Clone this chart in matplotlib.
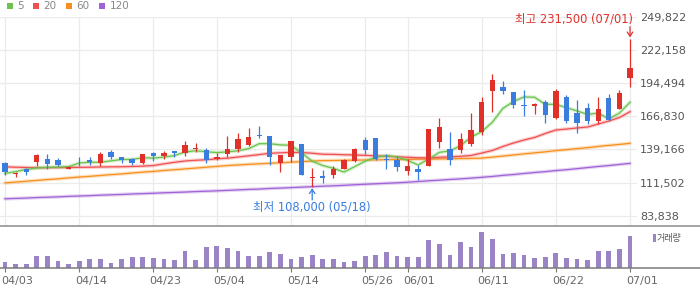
import matplotlib
matplotlib.use('Agg')
import matplotlib.pyplot as plt
from matplotlib.patches import Rectangle
from matplotlib.lines import Line2D
import matplotlib.transforms as mtransforms
import numpy as np

plt.rcParams['font.family'] = ['DejaVu Sans', 'Noto Sans CJK KR']

# ---------------- data ----------------
dates = ['04/03', '04/06', '04/07', '04/08', '04/09', '04/10', '04/13', '04/14',
         '04/15', '04/16', '04/17', '04/20', '04/21', '04/22', '04/23', '04/24',
         '04/27', '04/28', '04/29', '04/30', '05/04', '05/06', '05/07', '05/08',
         '05/11', '05/12', '05/13', '05/14', '05/15', '05/18', '05/19', '05/20',
         '05/21', '05/22', '05/26', '05/27', '05/28', '05/29', '06/01', '06/02',
         '06/03', '06/05', '06/08', '06/09', '06/10', '06/11', '06/12', '06/15',
         '06/16', '06/17', '06/18', '06/19', '06/22', '06/23', '06/24', '06/25',
         '06/26', '06/29', '06/30', '07/01']

open_ = [128000, 118500, 123000, 128500, 131000, 130000, 122500, 128000, 130500, 128000,
         137000, 133000, 131000, 128000, 136500, 134000, 138000, 136500, 139500, 138500,
         131000, 135500, 139500, 143000, 151000, 150000, 127500, 132500, 143500, 115000,
         117000, 117500, 123000, 129500, 147000, 148500, 131000, 130500, 121500, 123000,
         125500, 145000, 139500, 139000, 144000, 153500, 187500, 191000, 187000, 176000,
         175500, 179000, 165500, 183000, 169500, 173500, 162500, 182000, 173000, 199000]
high = [128500, 120500, 123500, 135500, 135000, 132000, 125500, 132500, 132500, 137000,
        139000, 133000, 132000, 135500, 137000, 138000, 138000, 146000, 144500, 140500,
        136000, 150500, 153000, 157000, 158500, 150500, 134500, 146000, 143500, 123500,
        122000, 125000, 131000, 140500, 149500, 148500, 135500, 132500, 131000, 126000,
        156000, 165000, 153500, 153000, 169500, 183000, 202000, 196000, 187000, 188500,
        178000, 180000, 189500, 184500, 180000, 178000, 183000, 185500, 188500, 231500]
low = [117500, 116500, 117500, 125500, 122500, 125500, 122500, 125500, 126500, 125000,
       131000, 128000, 126500, 127000, 129500, 131500, 132500, 134000, 137000, 127500,
       130000, 133000, 137000, 142000, 148500, 126500, 120500, 129000, 117500, 108000,
       111500, 115000, 122500, 128500, 135500, 130000, 123000, 121500, 118000, 114000,
       125000, 140500, 126500, 136000, 142000, 151500, 170000, 185000, 174000, 167000,
       169000, 161500, 164500, 161500, 153000, 160000, 160500, 163000, 172500, 191000]
close = [120000, 119000, 120000, 134500, 127000, 126500, 124500, 127500, 128500, 135500,
         132500, 130000, 128000, 135500, 134000, 136500, 136500, 143000, 140500, 130000,
         133000, 139500, 147500, 149500, 150500, 133000, 134500, 146000, 117500, 116000,
         115000, 123000, 130500, 139500, 139000, 131500, 130000, 124500, 125500, 120000,
         156000, 158000, 130000, 148000, 155500, 178500, 197000, 188000, 176500, 175000,
         177000, 167500, 188000, 162500, 161500, 162500, 173000, 164000, 186500, 207000]

ma5 = [119300, 120700, 122500, 123700, 124300, 124600, 124800, 127900, 128500, 128500,
       129700, 130800, 130900, 132300, 132000, 132800, 134100, 137100, 138100, 137300,
       136600, 137200, 138100, 139900, 144000, 144000, 143000, 142700, 136300, 129400,
       125800, 123500, 120400, 124800, 129400, 132700, 134100, 132900, 130100, 126300,
       131200, 136800, 137900, 142400, 149500, 154000, 161800, 173400, 179100, 183000,
       182700, 176800, 176800, 174000, 171300, 168400, 169500, 164700, 169500, 178600]
ma20 = [124700, 124400, 124200, 124000, 124000, 124100, 124200, 124300, 124400, 124600,
        124700, 124800, 125000, 125300, 125800, 127200, 128500, 129600, 130200, 130600,
        131400, 131900, 132900, 133900, 134900, 136000, 136400, 136800, 136600, 136100,
        135200, 135100, 134800, 134600, 134300, 133900, 133500, 133100, 132700, 132300,
        132100, 132700, 133100, 133500, 134200, 136200, 138300, 141700, 144600, 147100,
        149200, 152500, 155400, 156200, 157100, 157900, 160400, 162900, 165800, 170700]
ma60 = [111300, 112000, 112700, 113400, 114100, 114700, 115500, 116200, 116800, 117500,
        118200, 118800, 119600, 120300, 120900, 121700, 122300, 123000, 123700, 124400,
        125100, 125800, 126300, 126800, 127200, 127700, 128100, 128600, 129100, 129500,
        129900, 130000, 130200, 130300, 130400, 130500, 130700, 130800, 130900, 131100,
        131200, 131300, 131400, 131600, 131700, 132000, 132800, 133700, 134600, 135500,
        136400, 137200, 138200, 139000, 139900, 140700, 141700, 142600, 143400, 144300]
ma120 = [98100, 98400, 98700, 99100, 99400, 99700, 100100, 100400, 100700, 101100,
         101400, 101700, 102100, 102400, 102700, 103100, 103400, 103700, 104100, 104400,
         104700, 105100, 105500, 105900, 106200, 106700, 107000, 107400, 107800, 108200,
         108600, 108900, 109300, 109800, 110200, 110600, 111000, 111400, 111900, 112500,
         113100, 113600, 114200, 114700, 115300, 116000, 116700, 117600, 118300, 119200,
         120000, 120700, 121600, 122300, 123200, 124100, 125000, 125800, 126700, 127600]

volume = [150, 100, 100, 300, 300, 175, 100, 175, 225, 225,
          125, 225, 275, 275, 250, 225, 200, 425, 200, 525,
          550, 500, 425, 300, 300, 400, 350, 225, 275, 325,
          225, 225, 150, 175, 300, 325, 400, 300, 275, 275,
          700, 600, 325, 650, 525, 900, 725, 350, 375, 325,
          250, 275, 375, 250, 225, 200, 425, 425, 475, 800]  # thousand shares

tick_labels = ['04/03', '04/14', '04/23', '05/04', '05/14', '05/26', '06/01',
               '06/11', '06/22', '07/01']
price_ticks = [83838, 111502, 139166, 166830, 194494, 222158, 249822]

ma_labels = ['5', '20', '60', '120']

# ---------------- style ----------------
RED = '#e0302a'
BLUE = '#3a7ddf'
MA_COLORS = ['#6cc44e', '#ef5050', '#f7901e', '#a062d6']
VOL_COLOR = '#9b84c6'
GRID = '#ebebeb'

W, H = 700, 289
fig = plt.figure(figsize=(W / 100, H / 100), dpi=100)


def fy(py):
    return 1 - py / H


ax = fig.add_axes([0, fy(225), 637 / W, (225 - 16.7) / H])
axv = fig.add_axes([0, fy(268), 637 / W, (268 - 226) / H])
for a in (ax, axv):
    for s in a.spines.values():
        s.set_visible(False)
    a.set_facecolor('none')
    a.set_xlim(-0.472, 59.66)

x = np.arange(len(dates))
o = np.array(open_)
c = np.array(close)
hi = np.array(high)
lo = np.array(low)
cols = np.where(c >= o, RED, BLUE)

# moving averages
for ma, col in zip([ma120, ma60, ma20, ma5], MA_COLORS[::-1]):
    ax.plot(x, ma, color=col, lw=2.6, alpha=0.28, zorder=2, solid_capstyle='round')
    ax.plot(x, ma, color=col, lw=0.9, zorder=2)

# candles
ax.vlines(x, lo, hi, colors=cols, lw=0.9, zorder=3)
body_b = np.minimum(o, c)
body_h = np.maximum(np.abs(c - o), 700)
ax.bar(x, body_h, bottom=body_b, width=0.5, color=cols, lw=0, zorder=4)

ax.set_ylim(76250, 249822)
ax.set_yticks(price_ticks)
ax.set_yticklabels([f'{v:,}' for v in price_ticks])
ax.yaxis.tick_right()
ax.tick_params(axis='y', length=0, pad=2.2, labelsize=8, labelcolor='#555555')
ax.set_xticks([dates.index(t) for t in tick_labels])
ax.tick_params(axis='x', length=0, labelbottom=False)
ax.grid(True, color=GRID, lw=0.9)
ax.set_axisbelow(True)

# annotations
imax = int(np.argmax(hi))
imin = int(np.argmin(lo))
ax.annotate('', xy=(imax, hi[imax]), xytext=(0, 12), textcoords='offset pixels',
            arrowprops=dict(arrowstyle='->,head_length=0.3,head_width=0.2', color=RED,
                            lw=0.9, shrinkA=0, shrinkB=1), annotation_clip=False)
ax.annotate(f'최고 {hi[imax]:,} ({dates[imax]})', xy=(imax, hi[imax]), xytext=(3, 20),
            textcoords='offset pixels', ha='right', va='center', fontsize=8.3,
            color=RED, annotation_clip=False)
ax.annotate('', xy=(imin, lo[imin]), xytext=(0, -13), textcoords='offset pixels',
            arrowprops=dict(arrowstyle='->,head_length=0.3,head_width=0.2', color=BLUE,
                            lw=0.9, shrinkA=0, shrinkB=1), annotation_clip=False)
ax.annotate(f'최저 {lo[imin]:,} ({dates[imin]})', xy=(imin, lo[imin]), xytext=(0, -20),
            textcoords='offset pixels', ha='center', va='center', fontsize=8.3,
            color=BLUE, annotation_clip=False)

# volume
vol = np.array(volume)
axv.bar(x, vol, width=0.45, color=VOL_COLOR, lw=0)
axv.set_ylim(0, vol.max() * 42 / 36)
axv.set_yticks([])
axv.set_xticks([dates.index(t) for t in tick_labels])
axv.set_xticklabels(tick_labels)
axv.tick_params(axis='x', length=3, width=0.8, color='#777777', labelsize=8,
                labelcolor='#666666', pad=2.5)
shift = mtransforms.ScaledTranslation(-4 / 100, 0, fig.dpi_scale_trans)
for lab in axv.get_xticklabels():
    lab.set_ha('left')
    lab.set_transform(lab.get_transform() + shift)

# pane separators (full width)
fig.add_artist(Line2D([0, 1], [fy(225.5), fy(225.5)], color='#8a8a8a', lw=1.1))
fig.add_artist(Line2D([0, 1], [fy(268), fy(268)], color='#7a7a7a', lw=1.1))

# top legend
sq_x = [7, 33, 66, 99]
tx_x = [17, 43, 76, 110]
for col, lab, sx, tx in zip(MA_COLORS, ma_labels, sq_x, tx_x):
    fig.add_artist(Rectangle((sx / W, fy(9)), 6 / W, 6 / H, transform=fig.transFigure,
                             color=col, lw=0))
    fig.text(tx / W, fy(6), lab, ha='left', va='center', fontsize=7.5, color='#888888')

# volume legend
fig.add_artist(Rectangle((653 / W, fy(242)), 3 / W, 8 / H, transform=fig.transFigure,
                         color=VOL_COLOR, lw=0))
fig.text(657 / W, fy(238), '거래량', ha='left', va='center', fontsize=6.5, color='#555555')

fig.savefig('out.png', dpi=100)
